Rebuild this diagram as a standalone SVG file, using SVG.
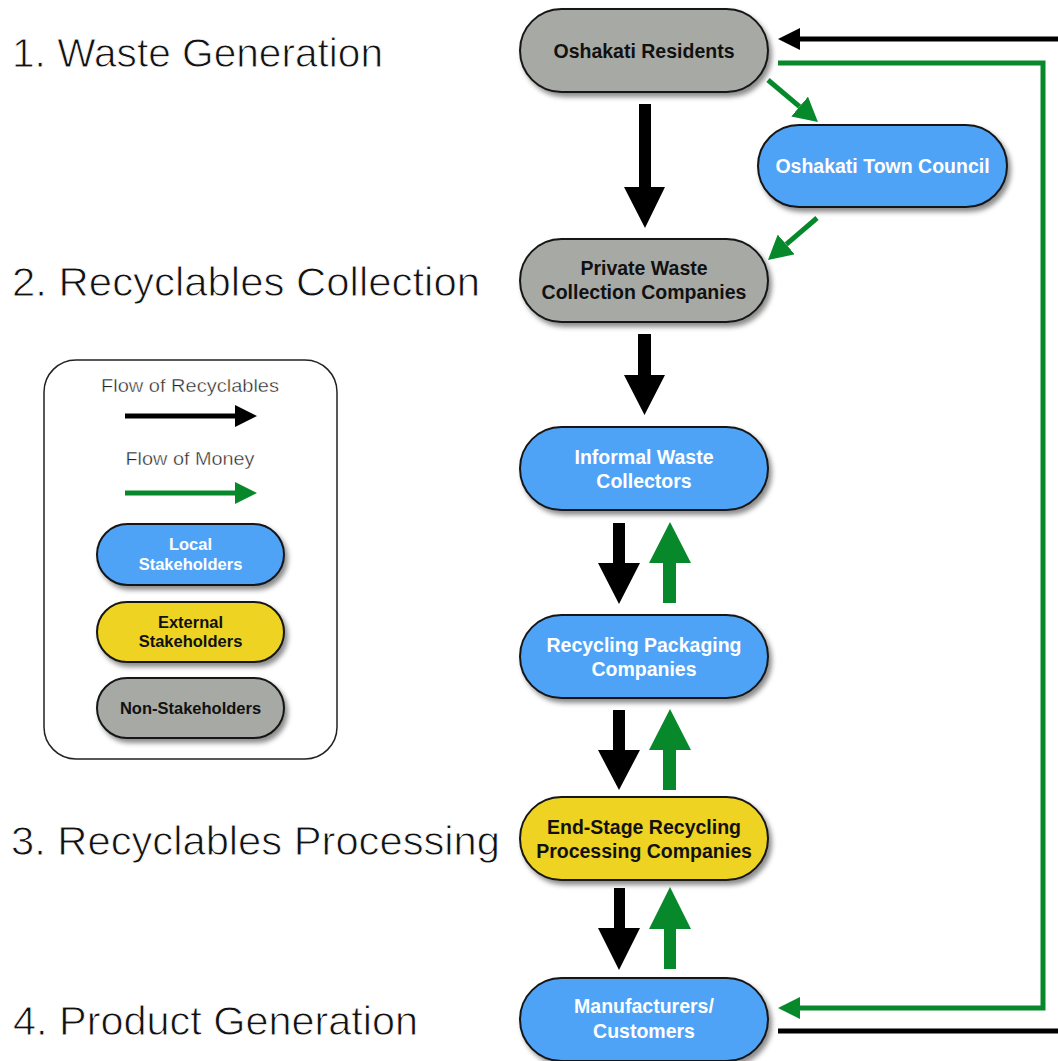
<svg xmlns="http://www.w3.org/2000/svg" width="1058" height="1061" viewBox="0 0 1058 1061">
<defs>
<style>
.stage{font-family:"Liberation Sans",Arial,sans-serif;font-size:41px;fill:#111;stroke:#fff;stroke-width:0.9px;}
.leg{font-family:"Liberation Sans",Arial,sans-serif;font-size:17.5px;fill:#222;text-anchor:middle;stroke:#fff;stroke-width:0.4px;}
.pill{stroke:#151515;stroke-width:2;filter:url(#sh);}
.gray{fill:#A6A9A4;}
.blue{fill:#50A3F6;}
.yellow{fill:#EFD324;}
.lbl{font-family:"Liberation Sans",Arial,sans-serif;font-weight:bold;font-size:19.5px;text-anchor:middle;}
.lgl{font-family:"Liberation Sans",Arial,sans-serif;font-weight:bold;font-size:16.5px;text-anchor:middle;}
.dk{fill:#111;}
.wt{fill:#fff;}
.gl{fill:none;stroke:#07892B;stroke-width:5;}
.bl{fill:none;stroke:#000;stroke-width:5;}
.gblk{fill:#07892B;}
.bblk{fill:#000;}
</style>
<filter id="sh" x="-10%" y="-20%" width="125%" height="150%">
<feDropShadow dx="3" dy="4" stdDeviation="2.5" flood-color="#000" flood-opacity="0.45"/>
</filter>
<marker id="ag" markerUnits="userSpaceOnUse" markerWidth="22" markerHeight="22" viewBox="0 0 22 22" refX="0" refY="11" orient="auto">
<path d="M0,0 L22,11 L0,22 z" fill="#07892B"/>
</marker>
<marker id="agd" markerUnits="userSpaceOnUse" markerWidth="24" markerHeight="26" viewBox="0 0 24 26" refX="0" refY="13" orient="auto">
<path d="M0,0 L24,13 L0,26 z" fill="#07892B"/>
</marker>
<marker id="ab" markerUnits="userSpaceOnUse" markerWidth="22" markerHeight="22" viewBox="0 0 22 22" refX="0" refY="11" orient="auto">
<path d="M0,0 L22,11 L0,22 z" fill="#000"/>
</marker>
</defs>
<rect width="1058" height="1061" fill="#fff"/>

<g id="stages">
<text class="stage" x="12" y="67" textLength="371" lengthAdjust="spacingAndGlyphs">1. Waste Generation</text>
<text class="stage" x="12" y="296" textLength="468" lengthAdjust="spacingAndGlyphs">2. Recyclables Collection</text>
<text class="stage" x="11" y="855" textLength="489" lengthAdjust="spacingAndGlyphs">3. Recyclables Processing</text>
<text class="stage" x="13" y="1035" textLength="405" lengthAdjust="spacingAndGlyphs">4. Product Generation</text>
</g>

<g id="legend">
<rect x="44" y="360" width="293" height="399" rx="32" ry="32" fill="#fff" stroke="#222" stroke-width="1.5"/>
<text class="leg" x="190" y="392" textLength="178" lengthAdjust="spacingAndGlyphs">Flow of Recyclables</text>
<line class="bl" x1="125" y1="416" x2="235" y2="416" marker-end="url(#ab)"/>
<text class="leg" x="190" y="465" textLength="129" lengthAdjust="spacingAndGlyphs">Flow of Money</text>
<line class="gl" x1="125" y1="493" x2="235" y2="493" marker-end="url(#ag)"/>
<g id="legend-local">
<rect class="pill blue" x="97" y="524" width="187" height="61" rx="30.5"/>
<text class="lgl wt" x="190.5" y="550">Local</text>
<text class="lgl wt" x="190.5" y="570">Stakeholders</text>
</g>
<g id="legend-external">
<rect class="pill yellow" x="97" y="602" width="187" height="60" rx="30"/>
<text class="lgl dk" x="190.5" y="628">External</text>
<text class="lgl dk" x="190.5" y="647">Stakeholders</text>
</g>
<g id="legend-non">
<rect class="pill gray" x="97" y="678" width="187" height="60" rx="30"/>
<text class="lgl dk" x="190.5" y="714">Non-Stakeholders</text>
</g>
</g>

<g id="connectors">
<polygon class="bblk" points="639,104 651,104 651,187 665,187 645,228 624,187 639,187"/>
<polygon class="bblk" points="638,334 651,334 651,375 665,375 644.5,415 624,375 638,375"/>
<polygon class="bblk" points="613,523 625,523 625,563 640,563 619,604 598,563 613,563"/>
<polygon class="bblk" points="613,710 625,710 625,750 640,750 619,790 598,750 613,750"/>
<polygon class="bblk" points="614,888 625,888 625,928 640,928 619,970 598,928 614,928"/>
<polygon class="gblk" points="663,603 676,603 676,563 691,563 670,522 649,563 663,563"/>
<polygon class="gblk" points="663,790 676,790 676,750 691,750 670,709 649,750 663,750"/>
<polygon class="gblk" points="664,969 676,969 676,929 691,929 670,887 649,929 664,929"/>
<line class="gl" x1="768" y1="80" x2="799.6" y2="106.6" marker-end="url(#agd)"/>
<line class="gl" x1="817" y1="218" x2="786.2" y2="244.4" marker-end="url(#agd)"/>
<line class="bl" x1="1058" y1="39" x2="800" y2="39" marker-end="url(#ab)"/>
<polyline class="gl" points="778,63 1043,63 1043,1008 800,1008" marker-end="url(#ag)"/>
<line class="bl" x1="778" y1="1031" x2="1058" y2="1031"/>
</g>

<g id="node-residents">
<rect class="pill gray" x="520" y="9" width="248" height="83" rx="41.5"/>
<text class="lbl dk" x="644" y="58">Oshakati Residents</text>
</g>
<g id="node-council">
<rect class="pill blue" x="758" y="125" width="249" height="82" rx="41"/>
<text class="lbl wt" x="882.5" y="173">Oshakati Town Council</text>
</g>
<g id="node-private">
<rect class="pill gray" x="520" y="239" width="248" height="83" rx="41.5"/>
<text class="lbl dk" x="644" y="275">Private Waste</text>
<text class="lbl dk" x="644" y="299">Collection Companies</text>
</g>
<g id="node-informal">
<rect class="pill blue" x="520" y="427" width="248" height="83" rx="41.5"/>
<text class="lbl wt" x="644" y="464">Informal Waste</text>
<text class="lbl wt" x="644" y="488">Collectors</text>
</g>
<g id="node-packaging">
<rect class="pill blue" x="520" y="615" width="248" height="83" rx="41.5"/>
<text class="lbl wt" x="644" y="652">Recycling Packaging</text>
<text class="lbl wt" x="644" y="676">Companies</text>
</g>
<g id="node-endstage">
<rect class="pill yellow" x="520" y="797" width="248" height="83" rx="41.5"/>
<text class="lbl dk" x="644" y="834">End-Stage Recycling</text>
<text class="lbl dk" x="644" y="858">Processing Companies</text>
</g>
<g id="node-manufacturers">
<rect class="pill blue" x="520" y="978" width="248" height="83" rx="41.5"/>
<text class="lbl wt" x="644" y="1013">Manufacturers/</text>
<text class="lbl wt" x="644" y="1038">Customers</text>
</g>
</svg>
